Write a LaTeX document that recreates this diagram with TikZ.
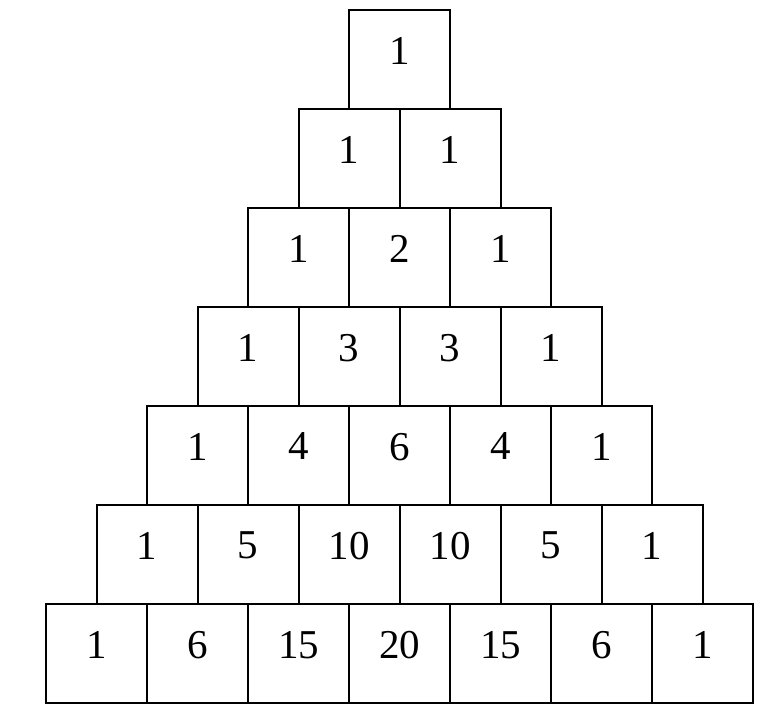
\documentclass[tikz,border=0pt]{standalone}
\usepackage{fontspec}
\setmainfont{Liberation Serif}
\begin{document}
\begin{tikzpicture}[x=0.5pt, y=-0.5pt,
        cell/.style={draw, line width=1pt, minimum width=50.5pt, minimum height=49.5pt,
            inner sep=0pt, text depth=9pt, font=\fontsize{20.5}{24}\selectfont}]
            \useasboundingbox (0, 0) rectangle (783, 713);
            \foreach \row [count=\i from 0] in {{1},{1,1},{1,2,1},{1,3,3,1},{1,4,6,4,1},{1,5,10,10,5,1},{1,6,15,20,15,6,1}}
                \foreach \v [count=\j from 0] in \row
                    \node[cell] (b-\i-\j) at (399.5-50.5*\i+101*\j, 59.5+99*\i) {\v};
        \end{tikzpicture}
\end{document}
